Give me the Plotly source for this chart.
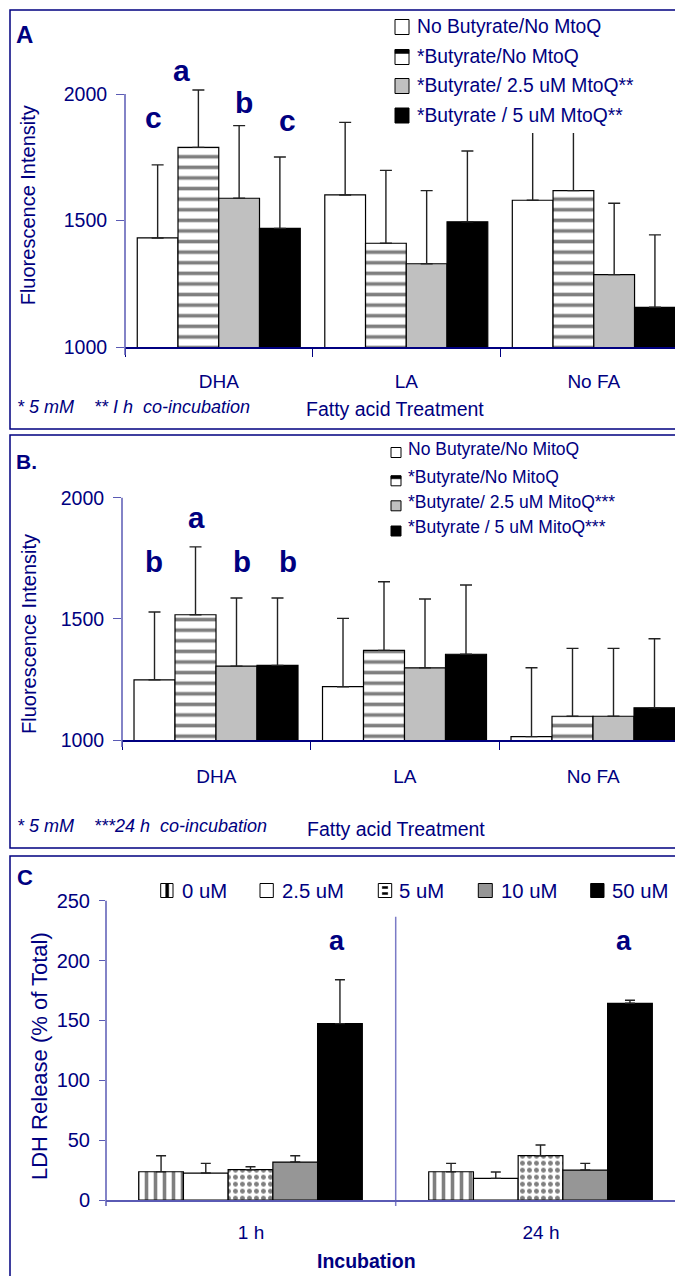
import plotly.graph_objects as go

W, H = 675, 1276


def X(px):
    return px / W


def Y(py):
    return 1 - py / H


NAVY = "#000080"
AXBLUE = "#5a5ab4"
FONT = "Liberation Sans, Arial, sans-serif"

# ---------------- data ----------------
fa_categories = ["DHA", "LA", "No FA"]

a_series = ["No Butyrate/No MtoQ", "*Butyrate/No MtoQ",
            "*Butyrate/ 2.5 uM MtoQ**", "*Butyrate / 5 uM MtoQ**"]
a_no_but = [1431, 1601, 1580]
a_no_but_err = [289, 287, 300]
a_but = [1789, 1410, 1618]
a_but_err = [227, 288, 270]
a_mito25 = [1588, 1329, 1286]
a_mito25_err = [287, 289, 282]
a_mito5 = [1469, 1495, 1157]
a_mito5_err = [282, 280, 286]
a_letters = ["c", "a", "b", "c"]

b_series = ["No Butyrate/No MitoQ", "*Butyrate/No MitoQ",
            "*Butyrate/ 2.5 uM MitoQ***", "*Butyrate / 5 uM MitoQ***"]
b_no_but = [1248, 1220, 1014]
b_no_but_err = [280, 282, 284]
b_but = [1517, 1370, 1098]
b_but_err = [280, 283, 280]
b_mito25 = [1305, 1298, 1098]
b_mito25_err = [281, 284, 280]
b_mito5 = [1308, 1354, 1133]
b_mito5_err = [278, 286, 285]
b_letters = ["b", "a", "b", "b"]

fluor_ticks = [1000, 1500, 2000]

inc_categories = ["1 h", "24 h"]
c_series = ["0 uM", "2.5 uM", "5 uM", "10 uM", "50 uM"]
c_0 = [23.6, 23.6]
c_0_err = [13.4, 7.0]
c_25 = [22.5, 18.1]
c_25_err = [8.1, 5.3]
c_5 = [25.3, 37.0]
c_5_err = [2.5, 9.0]
c_10 = [31.7, 25.0]
c_10_err = [5.3, 5.6]
c_50 = [147.3, 164.3]
c_50_err = [36.7, 2.5]
c_letters = ["a", "a"]
ldh_ticks = [0, 50, 100, 150, 200, 250]


# ---------------- styles ----------------
def mk(kind):
    m = dict(line=dict(color="black", width=1.2))
    if kind == "white":
        m["color"] = "white"
    elif kind == "hstripe":
        m["color"] = "white"
        m["pattern"] = dict(shape="-", size=10.6, solidity=0.34,
                            fgcolor="black", bgcolor="white", fillmode="overlay")
    elif kind == "vstripe":
        m["color"] = "white"
        m["pattern"] = dict(shape="|", size=9, solidity=0.4,
                            fgcolor="black", bgcolor="white", fillmode="overlay")
    elif kind == "dots":
        m["color"] = "white"
        m["pattern"] = dict(shape=".", size=7, solidity=0.4,
                            fgcolor="black", bgcolor="white", fillmode="overlay")
    elif kind == "lgray":
        m["color"] = "#c0c0c0"
    elif kind == "dgray":
        m["color"] = "#969696"
    elif kind == "black":
        m["color"] = "black"
    return m


fig = go.Figure()


def add_bars(cats, vals, errs, name, kind, xa, ya, width, offset, capw):
    fig.add_trace(go.Bar(
        x=cats, y=vals, name=name, marker=mk(kind), width=width, offset=offset,
        xaxis=xa, yaxis=ya, showlegend=False,
        error_y=dict(type="data", symmetric=False, array=errs,
                     arrayminus=[0] * len(errs), color="#222222",
                     thickness=1.4, width=capw)))


# Panel A
wA = 0.2173
startA = -0.4346
for i, (vals, errs, kind) in enumerate([
        (a_no_but, a_no_but_err, "white"), (a_but, a_but_err, "hstripe"),
        (a_mito25, a_mito25_err, "lgray"), (a_mito5, a_mito5_err, "black")]):
    add_bars(fa_categories, vals, errs, a_series[i], kind, "x", "y", wA, startA + i * wA, 6)

# Panel B
wB = 0.2175
startB = -0.4363
for i, (vals, errs, kind) in enumerate([
        (b_no_but, b_no_but_err, "white"), (b_but, b_but_err, "hstripe"),
        (b_mito25, b_mito25_err, "lgray"), (b_mito5, b_mito5_err, "black")]):
    add_bars(fa_categories, vals, errs, b_series[i], kind, "x2", "y2", wB, startB + i * wB, 6)

# Panel C
wC = 0.1542
startC = -0.3872
for i, (vals, errs, kind) in enumerate([
        (c_0, c_0_err, "vstripe"), (c_25, c_25_err, "white"), (c_5, c_5_err, "dots"),
        (c_10, c_10_err, "dgray"), (c_50, c_50_err, "black")]):
    add_bars(inc_categories, vals, errs, c_series[i], kind, "x3", "y3", wC, startC + i * wC, 5)

# ---------------- axes ----------------
tickfont = dict(family=FONT, size=19, color=NAVY)


def xcat(domain, cats, rng, anchor, standoff, ticks, lc):
    return dict(domain=domain, anchor=anchor, type="category", categoryorder="array",
                categoryarray=cats, range=rng, showgrid=False, zeroline=False,
                showline=True, linecolor=lc, linewidth=1.5, ticks=ticks,
                tickson="boundaries", ticklen=8, tickcolor=lc, tickwidth=1.3,
                tickfont=tickfont, ticklabelstandoff=standoff, fixedrange=True,
                automargin=False)


def yax(domain, rng, tv, anchor, tl, size):
    return dict(domain=domain, anchor=anchor, range=rng, tickvals=tv,
                ticktext=[str(t) for t in tv], showgrid=False, zeroline=False,
                showline=False, ticks="outside", ticklen=tl, tickcolor=AXBLUE,
                tickwidth=1.3, tickfont=dict(family=FONT, size=size, color=NAVY),
                ticklabelstandoff=5, fixedrange=True, automargin=False)


fig.update_layout(
    xaxis=xcat([X(125), 1], fa_categories, [-0.5, 2.433], "y", 16, "outside", NAVY),
    yaxis=yax([Y(347), Y(56.05)], [1000, 2150], fluor_ticks, "x", 8, 19.5),
    xaxis2=xcat([X(122), 1], fa_categories, [-0.5, 2.4337], "y2", 18, "outside", NAVY),
    yaxis2=yax([Y(740), Y(497.7)], [1000, 2000], fluor_ticks, "x2", 8, 19.5),
    xaxis3=xcat([X(106), 1], inc_categories, [-0.5, 1.462], "y3", 14, "", AXBLUE),
    yaxis3=yax([Y(1200), Y(900.7)], [0, 250], ldh_ticks, "x3", 6, 20),
)

# ---------------- shapes ----------------
shapes = []


def line(x0, y0, x1, y1, color, w=1.5, layer="above"):
    shapes.append(dict(type="line", xref="paper", yref="paper", x0=X(x0), y0=Y(y0),
                       x1=X(x1), y1=Y(y1), line=dict(color=color, width=w), layer=layer))


def rect(x0, y0, x1, y1, fill, lc="black", lw=1.0, layer="above"):
    shapes.append(dict(type="rect", xref="paper", yref="paper", x0=X(x0), y0=Y(y1),
                       x1=X(x1), y1=Y(y0), fillcolor=fill,
                       line=dict(color=lc, width=lw), layer=layer))


# panel borders
rect(10, 10, 700, 429, "rgba(0,0,0,0)", NAVY, 1.5, "below")
rect(10, 435, 700, 848, "rgba(0,0,0,0)", NAVY, 1.5, "below")
rect(10, 856, 700, 1300, "rgba(0,0,0,0)", NAVY, 1.5, "below")

# y-axis lines
line(125, 355, 125, 94, AXBLUE)
line(122, 747, 122, 497.7, AXBLUE)
line(106, 1206, 106, 900.7, AXBLUE)
# divider in panel C
line(395.7, 1206, 395.7, 916.7, "#7b7bc6", 1.5, "below")

# legend A (white cover hides the tops of the long error bars, as in the original)
rect(385, 12, 680, 133, "white", "white", 0)
legA_y = [27, 57, 86, 115.5]
for i, yy in enumerate(legA_y):
    x0, x1, y0, y1 = 395, 409, yy - 7.5, yy + 7.5
    if i == 0:
        rect(x0, y0, x1, y1, "white")
    elif i == 1:
        rect(x0, y0, x1, y1, "white")
        rect(x0, y0, x1, y0 + 4, "black", "black", 0.5)
    elif i == 2:
        rect(x0, y0, x1, y1, "#c0c0c0")
    else:
        rect(x0, y0, x1, y1, "black")

# legend B
legB_sym = [452.5, 480.8, 505.8, 531]
for i, yy in enumerate(legB_sym):
    x0, x1, y0, y1 = 391, 401, yy - 5, yy + 5
    if i == 0:
        rect(x0, y0, x1, y1, "white")
    elif i == 1:
        rect(x0, y0, x1, y1, "white")
        rect(x0, y0, x1, y0 + 3, "black", "black", 0.5)
    elif i == 2:
        rect(x0, y0, x1, y1, "#c0c0c0")
    else:
        rect(x0, y0, x1, y1, "black")

# legend C
legC_sym = [(160.7, 173), (260, 273.3), (378.3, 391.7), (478.3, 492.3), (590.7, 604)]
for i, (x0, x1) in enumerate(legC_sym):
    y0, y1 = 883.5, 897.5
    if i == 0:
        rect(x0, y0, x1, y1, "white")
        rect(x0 + 5, y0, x0 + 8, y1, "black", "black", 0.5)
    elif i == 1:
        rect(x0, y0, x1, y1, "white")
    elif i == 2:
        rect(x0, y0, x1, y1, "white")
        rect(x0 + 4, y0 + 3, x1 - 4, y0 + 5, "black", "black", 0.5)
        rect(x0 + 4, y1 - 5, x1 - 4, y1 - 3, "black", "black", 0.5)
    elif i == 3:
        rect(x0, y0, x1, y1, "#969696")
    else:
        rect(x0, y0, x1, y1, "black")

# ---------------- annotations ----------------
ann = []


def txt(text, x, y, size, xanchor="left", weight="normal", style="normal", angle=0,
        color=NAVY):
    ann.append(dict(text=text, x=X(x), y=Y(y), xref="paper", yref="paper",
                    xanchor=xanchor, yanchor="middle", showarrow=False, textangle=angle,
                    font=dict(family=FONT, size=size, color=color, weight=weight,
                              style=style)))


# Panel labels
txt("A", 24, 35, 24, "center", "bold")
txt("B.", 26, 462, 21, "center", "bold")
txt("C", 25, 877.5, 22, "center", "bold")

# Axis titles
txt("Fluorescence Intensity", 27.5, 205.8, 20, "center", angle=-90)
txt("Fluorescence Intensity", 29, 634, 20, "center", angle=-90)
txt("LDH Release (% of Total)", 39, 1056, 22, "center", angle=-90)
txt("Fatty acid Treatment", 395, 408.5, 19.5, "center")
txt("Fatty acid Treatment", 396, 829, 19.5, "center")
txt("Incubation", 366, 1261, 19.5, "center", "bold")

# Footnotes
nb = "\u00a0"
txt("* 5 mM" + nb * 4 + "** I h" + nb * 2 + "co-incubation", 15, 407, 18, style="italic")
txt("* 5 mM" + nb * 4 + "***24 h" + nb * 2 + "co-incubation", 15, 826, 18, style="italic")

# Legend texts
for i, yy in enumerate([26.7, 56.7, 85.7, 115.7]):
    txt(a_series[i], 415, yy, 19.3)
for i, yy in enumerate(legB_sym):
    txt(b_series[i], 406, yy - 3.5, 17.5)
for i, xx in enumerate([180, 280, 396.7, 499, 610]):
    txt(c_series[i], xx, 891, 20.3)

# significance letters
for s, (xx, yy) in zip(a_letters, [(153.5, 118), (181.7, 70), (244, 102), (287, 120)]):
    txt(s, xx, yy, 30, "center", "bold")
for s, (xx, yy) in zip(b_letters, [(154, 561), (196, 517), (241.7, 561), (288, 561)]):
    txt(s, xx, yy, 29.5, "center", "bold")
for s, (xx, yy) in zip(c_letters, [(337, 941), (624, 941)]):
    txt(s, xx, yy, 27, "center", "bold")

fig.update_layout(
    width=W, height=H, margin=dict(l=0, r=0, t=0, b=0, autoexpand=False),
    paper_bgcolor="white", plot_bgcolor="rgba(0,0,0,0)",
    barmode="overlay", showlegend=False,
    shapes=shapes, annotations=ann,
    font=dict(family=FONT, color=NAVY),
)

fig.write_html(
    "out.html",
    config={"displayModeBar": False},
    post_script="document.body.style.margin='0px';"
                "document.body.style.overflow='hidden';",
)
